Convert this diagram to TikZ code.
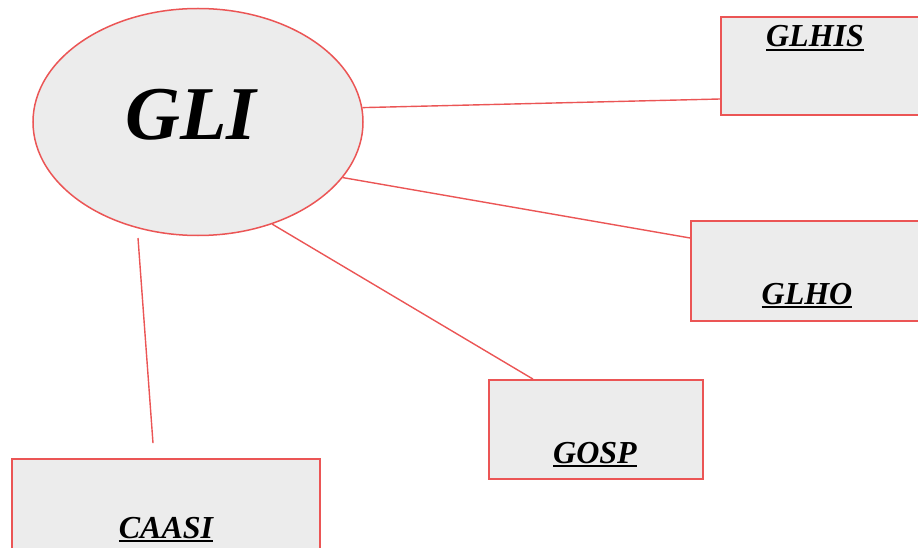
\documentclass[tikz,border=0pt]{standalone}
\usepackage{fontspec}
\setmainfont{Liberation Serif}
\usepackage{xcolor}
\usetikzlibrary{shapes.geometric}
\definecolor{edgered}{RGB}{235,85,85}
\definecolor{boxgray}{RGB}{236,236,236}
\newcommand{\ulbl}[1]{\vtop{\hbox{#1}\kern2pt\hrule height 1.6pt}}

\begin{document}
\begin{tikzpicture}[x=1pt,y=-1pt,
    box/.style={draw=edgered,line width=1.8pt,fill=boxgray,rectangle,inner sep=0},
    bubble/.style={draw=edgered,line width=1.5pt,fill=boxgray,ellipse,inner sep=0},
    lbl/.style={font=\fontsize{32}{36}\selectfont\bfseries\itshape,anchor=base,inner sep=0},
    link/.style={draw=edgered,line width=1.4pt}]
    \useasboundingbox (0,0) rectangle (918,548);
    \clip (0,0) rectangle (918,548);

    \node(gli)[bubble,minimum width=330pt,minimum height=227pt] at (198,122) {};
    \node(glhis)[box,minimum width=240pt,minimum height=98pt] at (841,66) {};
    \node(glho)[box,minimum width=270pt,minimum height=100pt] at (826,271) {};
    \node(gosp)[box,minimum width=214pt,minimum height=99pt] at (596,429.5) {};
    \node(caasi)[box,minimum width=308pt,minimum height=140pt] at (166,529) {};

    \node(glilbl)[lbl,font=\fontsize{76}{80}\selectfont\bfseries\itshape] at (191,140) {GLI};
    \node(glhislbl)[lbl] at (815,47) {\ulbl{GLHIS}};
    \node(glholbl)[lbl] at (807,304) {\ulbl{GLHO}};
    \node(gosplbl)[lbl] at (595,463) {\ulbl{GOSP}};
    \node(caasilbl)[lbl] at (166,538) {\ulbl{CAASI}};

    \coordinate(glifoot) at ([xshift=-60,yshift=-116]gli.center);
    \coordinate(caasiend) at ([xshift=-13,yshift=15]caasi.north);

    \draw[link] (gli.5) -- ([yshift=-33]glhis.west);
    \draw[link] (gli.-21) -- ([yshift=33]glho.west);
    \draw[link] (gli.-54) -- ([xshift=-63]gosp.north);
    \draw[link] (glifoot) -- (caasiend);
\end{tikzpicture}
\end{document}
